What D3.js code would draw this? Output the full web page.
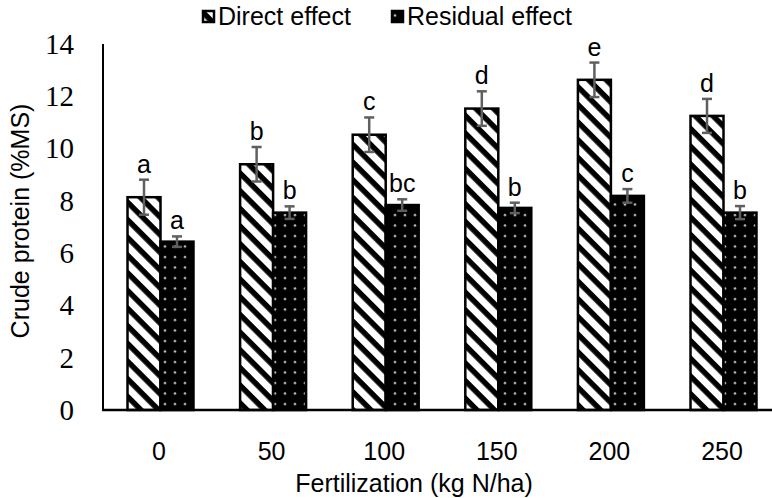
<!DOCTYPE html>
<html>
<head>
<meta charset="utf-8">
<script src="https://cdn.jsdelivr.net/npm/d3@7"></script>
<style>
  body { margin: 0; background: #fff; }
  text { font-family: "Liberation Sans", Arial, sans-serif; }
</style>
</head>
<body>
<svg width="772" height="498"></svg>
<script>
const categories = ["0", "50", "100", "150", "200", "250"];
const series = ["Direct effect", "Residual effect"];
const directVals = [8.14, 9.4, 10.53, 11.53, 12.63, 11.25];
const directErr = [0.67, 0.66, 0.66, 0.66, 0.66, 0.65];
const directLetters = ["a", "b", "c", "d", "e", "d"];
const residualVals = [6.44, 7.55, 7.84, 7.73, 8.19, 7.55];
const residualErr = [0.2, 0.24, 0.22, 0.2, 0.26, 0.25];
const residualLetters = ["a", "b", "bc", "b", "c", "b"];
const yTicks = [0, 2, 4, 6, 8, 10, 12, 14];

const svg = d3.select("svg");
const plotLeft = 103, plotBottom = 410, plotTop = 44;

const x = d3.scaleBand()
    .domain(categories)
    .range([104.2, 779.8])
    .paddingInner(0.414)
    .paddingOuter(0.207);

const x1 = d3.scaleBand()
    .domain(series)
    .range([0, x.bandwidth()]);

const y = d3.scaleLinear().domain([0, 14]).range([plotBottom, plotTop]);

// patterns
const defs = svg.append("defs");
const stripes = defs.append("pattern")
    .attr("id", "stripes")
    .attr("patternUnits", "userSpaceOnUse")
    .attr("width", 12.5).attr("height", 12.5)
    .attr("patternTransform", "rotate(45)");
stripes.append("rect").attr("width", 12.5).attr("height", 12.5).attr("fill", "#fff");
stripes.append("rect").attr("width", 12.5).attr("height", 5.5).attr("fill", "#000");

const dots = defs.append("pattern")
    .attr("id", "dots")
    .attr("patternUnits", "userSpaceOnUse")
    .attr("width", 10).attr("height", 10.5);
dots.append("rect").attr("width", 10).attr("height", 10.5).attr("fill", "#000");
dots.append("circle").attr("cx", 5).attr("cy", 5).attr("r", 1.3).attr("fill", "#bbb");

const data = categories.map((c, i) => [
    { cat: c, s: series[0], v: directVals[i], e: directErr[i], l: directLetters[i], fill: "url(#stripes)" },
    { cat: c, s: series[1], v: residualVals[i], e: residualErr[i], l: residualLetters[i], fill: "url(#dots)" }
]).flat();

// bars
svg.append("g").selectAll("rect")
    .data(data)
    .enter().append("rect")
    .attr("x", d => x(d.cat) + x1(d.s))
    .attr("y", d => y(d.v))
    .attr("width", x1.bandwidth())
    .attr("height", d => y(0) - y(d.v))
    .attr("fill", d => d.fill)
    .attr("stroke", "#000")
    .attr("stroke-width", 2.5);

// error bars
const eb = svg.append("g").attr("stroke", "#5f5f5f").attr("stroke-width", 2.5);
data.forEach(d => {
    const cx = x(d.cat) + x1(d.s) + x1.bandwidth() / 2;
    eb.append("line").attr("x1", cx).attr("x2", cx).attr("y1", y(d.v + d.e)).attr("y2", y(d.v - d.e));
    eb.append("line").attr("x1", cx - 5).attr("x2", cx + 5).attr("y1", y(d.v + d.e)).attr("y2", y(d.v + d.e));
    eb.append("line").attr("x1", cx - 5).attr("x2", cx + 5).attr("y1", y(d.v - d.e)).attr("y2", y(d.v - d.e));
});

// letters
svg.append("g").selectAll("text")
    .data(data)
    .enter().append("text")
    .attr("x", d => x(d.cat) + x1(d.s) + x1.bandwidth() / 2)
    .attr("y", d => y(d.v + d.e) - 7)
    .attr("text-anchor", "middle")
    .attr("font-size", 25)
    .text(d => d.l);

// axes
svg.append("line").attr("x1", plotLeft).attr("x2", plotLeft).attr("y1", plotTop).attr("y2", plotBottom)
    .attr("stroke", "#000").attr("stroke-width", 2);
svg.append("line").attr("x1", plotLeft - 1).attr("x2", 772).attr("y1", plotBottom).attr("y2", plotBottom)
    .attr("stroke", "#000").attr("stroke-width", 2.5);

svg.append("g").selectAll("text")
    .data(yTicks)
    .enter().append("text")
    .attr("x", 74)
    .attr("y", d => y(d))
    .attr("dy", "0.34em")
    .attr("text-anchor", "end")
    .attr("font-size", 29)
    .style("font-family", "'Liberation Serif', 'Times New Roman', serif")
    .text(d => d);

svg.append("g").selectAll("text")
    .data(categories)
    .enter().append("text")
    .attr("x", d => x(d) + x.bandwidth() / 2 - 1.5)
    .attr("y", 460)
    .attr("text-anchor", "middle")
    .attr("font-size", 25)
    .text(d => d);

svg.append("text")
    .attr("x", 414).attr("y", 492)
    .attr("text-anchor", "middle")
    .attr("font-size", 25)
    .text("Fertilization (kg N/ha)");

svg.append("text")
    .attr("transform", "translate(29,221) rotate(-90)")
    .attr("text-anchor", "middle")
    .attr("font-size", 25)
    .text("Crude protein (%MS)");

// legend
const legend = svg.append("g");
const legX = [203, 392];
series.forEach((s, i) => {
    legend.append("rect")
        .attr("x", legX[i]).attr("y", 11)
        .attr("width", 11).attr("height", 11)
        .attr("fill", i === 0 ? "url(#stripes)" : "url(#dots)")
        .attr("stroke", "#000").attr("stroke-width", 2.5);
    legend.append("text")
        .attr("x", legX[i] + 15).attr("y", 25)
        .attr("font-size", 25)
        .text(s);
});
</script>
</body>
</html>
